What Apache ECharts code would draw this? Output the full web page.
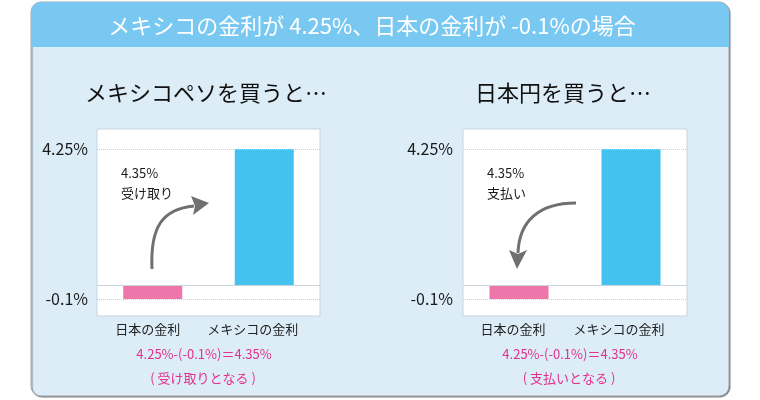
<!DOCTYPE html>
<html>
<head>
<meta charset="utf-8">
<script src="https://cdn.jsdelivr.net/npm/echarts@6/dist/echarts.min.js"></script>
<style>
html,body{margin:0;padding:0;background:#fff;}
#chart{width:760px;height:400px;}
</style>
</head>
<body>
<div id="chart"></div>
<script>
// ---- data ----
const categories = ['日本の金利', 'メキシコの金利'];
const rates = [-0.1, 4.25];
const yTicks = [4.25, -0.1];
const headerText = 'メキシコの金利が 4.25%、日本の金利が -0.1%の場合';
const panelTitles = ['メキシコペソを買うと…', '日本円を買うと…'];
const noteValue = ['4.35%', '4.35%'];
const noteAction = ['受け取り', '支払い'];
const formulaText = ['4.25%-(-0.1%)＝4.35%', '4.25%-(-0.1%)＝4.35%'];
const resultText = ['( 受け取りとなる )', '( 支払いとなる )'];

// ---- visual scale: negatives exaggerated as in the original ----
const NEG_SCALE = 4.375;
const toAxis = v => (v < 0 ? v * NEG_SCALE : v);
const fromAxis = a => {
  let best = yTicks[0], d = Infinity;
  yTicks.forEach(t => { const dd = Math.abs(toAxis(t) - a); if (dd < d) { d = dd; best = t; } });
  return best;
};

const FONT = '"Noto Sans CJK JP", "Noto Sans", sans-serif';
const PINK = '#ee76ab';
const BLUE = '#45c1ef';
const TEXT_PINK = '#e3318c';
const ARROW = '#707070';

const grids = [
  { left: 97, top: 129, width: 223, height: 187 },
  { left: 463, top: 129, width: 224, height: 187 }
];
const labelShift = [[10, 23], [12, 24]];

const option = {
  animation: false,
  textStyle: { fontFamily: FONT },
  graphic: [],
  grid: grids.map(g => Object.assign({
    show: true, backgroundColor: '#ffffff', borderColor: '#c9d3da', borderWidth: 1
  }, g)),
  xAxis: grids.map((g, gi) => ({
    type: 'category', gridIndex: gi, data: categories,
    axisLine: { show: false }, axisTick: { show: false },
    axisLabel: {
      interval: 0, hideOverlap: false,
      margin: 7, color: '#222', fontSize: 13, fontFamily: FONT,
      formatter: (v, i) => '{c' + i + '|' + v + '}',
      rich: {
        c0: { fontSize: 13, color: '#222', fontFamily: FONT, padding: [0, labelShift[gi][0], 0, 0] },
        c1: { fontSize: 13, color: '#222', fontFamily: FONT, padding: [0, labelShift[gi][1], 0, 0] }
      }
    }
  })),
  yAxis: grids.map((g, gi) => ({
    type: 'value', gridIndex: gi, min: -0.96875, max: 4.875,
    splitLine: { show: false }, axisLine: { show: false }, axisTick: { show: false },
    axisLabel: {
      customValues: yTicks.map(toAxis),
      formatter: v => fromAxis(v) + '%',
      fontSize: 16, color: '#1a1a1a', fontFamily: FONT, margin: gi === 0 ? 9 : 10
    }
  })),
  series: grids.map((g, gi) => ({
    type: 'bar', xAxisIndex: gi, yAxisIndex: gi, barWidth: 59,
    data: rates.map((v, i) => ({ value: toAxis(v), itemStyle: { color: i === 0 ? PINK : BLUE } })),
    markLine: {
      silent: true, symbol: 'none', label: { show: false },
      data: [
        ...yTicks.map(t => ({ yAxis: toAxis(t), lineStyle: { color: '#cfcfcf', type: 'dotted', width: 1 } })),
        { yAxis: 0, lineStyle: { color: '#c9d3da', type: 'solid', width: 1 } }
      ]
    }
  }))
};

// panel background & header
option.graphic.push(
  { type: 'rect', z: -10, shape: { x: 31, y: 2, width: 698, height: 394, r: 10 },
    style: { fill: '#dcedf8', stroke: '#a8a8a8', lineWidth: 1, shadowColor: 'rgba(0,0,0,0.45)', shadowOffsetX: 1, shadowOffsetY: 1, shadowBlur: 1 } },
  { type: 'rect', z: -9, shape: { x: 31, y: 2, width: 698, height: 45, r: [10, 10, 0, 0] },
    style: { fill: '#79c8f1' } },
  { type: 'text', x: 372, y: 26, style: { text: headerText, fill: '#ffffff', font: '22px ' + FONT, align: 'center', verticalAlign: 'middle' } }
);

const titleX = [206, 563];
const noteX = [121, 487];
const formulaX = [204, 570];
titleX.forEach((tx, i) => {
  option.graphic.push(
    { type: 'text', x: tx, y: 93, style: { text: panelTitles[i], fill: '#111', font: '22px ' + FONT, align: 'center', verticalAlign: 'middle' } },
    { type: 'text', x: noteX[i], y: 173, z: 20, style: { text: noteValue[i], fill: '#1a1a1a', font: '13px ' + FONT, align: 'left', verticalAlign: 'middle' } },
    { type: 'text', x: noteX[i], y: 193, z: 20, style: { text: noteAction[i], fill: '#1a1a1a', font: '13px ' + FONT, align: 'left', verticalAlign: 'middle' } },
    { type: 'text', x: formulaX[i], y: 354, style: { text: formulaText[i], fill: TEXT_PINK, font: '13px ' + FONT, align: 'center', verticalAlign: 'middle' } },
    { type: 'text', x: formulaX[i] - 1, y: 378, style: { text: resultText[i], fill: TEXT_PINK, font: '13px ' + FONT, align: 'center', verticalAlign: 'middle' } }
  );
});

// curved arrows (annotations)
option.graphic.push(
  { type: 'bezierCurve', z: 20, shape: { x1: 152, y1: 269, cpx1: 150, cpy1: 226, cpx2: 163, cpy2: 209, x2: 194, y2: 206 },
    style: { stroke: ARROW, lineWidth: 3, fill: null } },
  { type: 'polygon', z: 20, shape: { points: [[209, 203], [191, 196], [195, 206], [193, 215]] },
    style: { fill: ARROW } },
  { type: 'bezierCurve', z: 20, shape: { x1: 576, y1: 203, cpx1: 538, cpy1: 203, cpx2: 519, cpy2: 222, x2: 518, y2: 253 },
    style: { stroke: ARROW, lineWidth: 3, fill: null } },
  { type: 'polygon', z: 20, shape: { points: [[517, 269], [509, 250], [518, 254], [527, 250]] },
    style: { fill: ARROW } }
);

const chart = echarts.init(document.getElementById('chart'), null, { renderer: 'canvas' });
chart.setOption(option);
</script>
</body>
</html>
